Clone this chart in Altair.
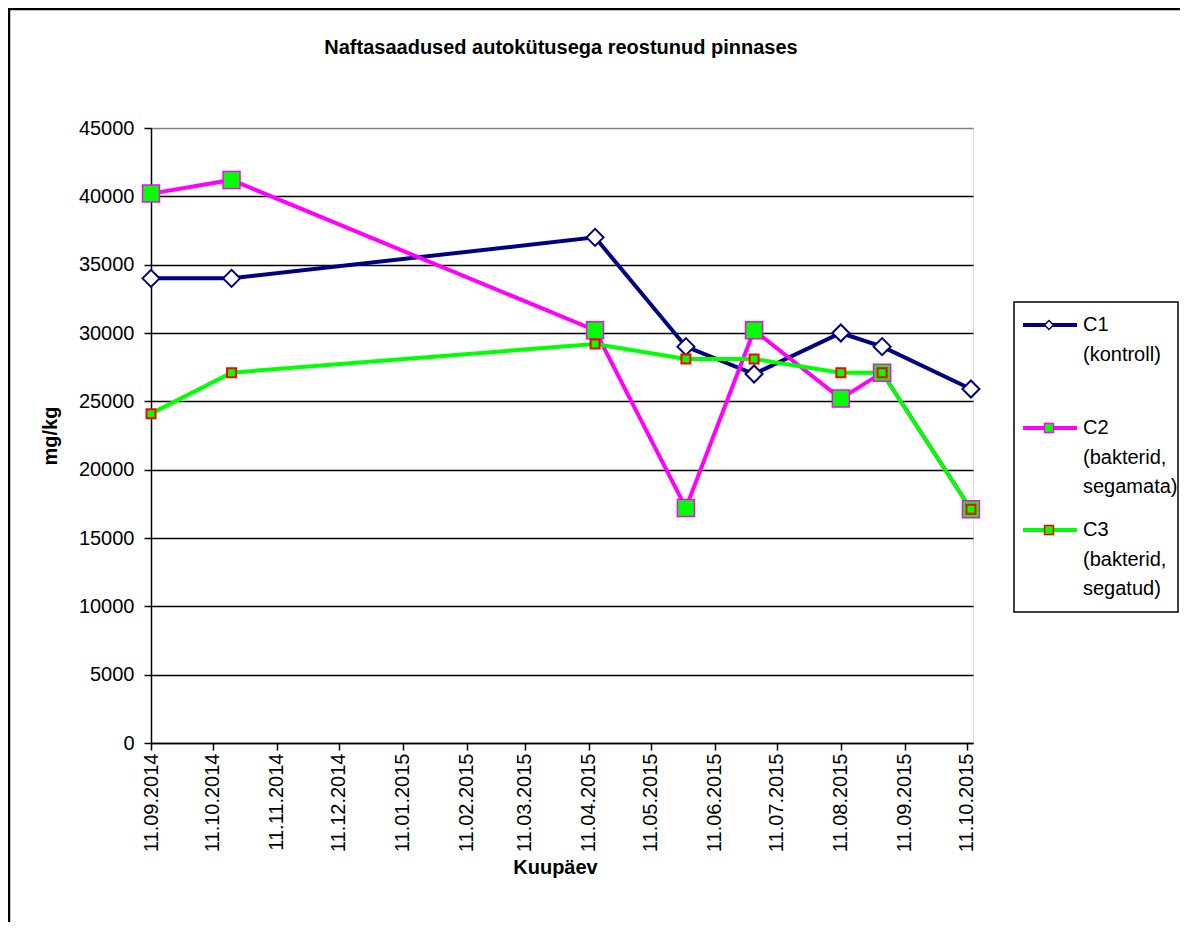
import altair as alt
import pandas as pd

# ---- data ----
dates = ["2014-09-11", "2014-10-20", "2015-04-14", "2015-05-28",
         "2015-06-30", "2015-08-11", "2015-08-31", "2015-10-13"]
c1 = [34000, 34000, 37000, 29000, 27000, 30000, 29000, 25900]
c2 = [40200, 41200, 30200, 17200, 30200, 25200, 27100, 17100]
c3 = [24100, 27100, 29200, 28100, 28100, 27100, 27100, 17100]
series = ["C1 (kontroll)", "C2 (bakterid, segamata)", "C3 (bakterid, segatud)"]
legend_lines = [["C1", "(kontroll)"],
                ["C2", "(bakterid,", "segamata)"],
                ["C3", "(bakterid,", "segatud)"]]
tick_dates = ["2014-09-11", "2014-10-11", "2014-11-11", "2014-12-11",
              "2015-01-11", "2015-02-11", "2015-03-11", "2015-04-11",
              "2015-05-11", "2015-06-11", "2015-07-11", "2015-08-11",
              "2015-09-11", "2015-10-11"]
x_domain = ["2014-09-11", "2015-10-14"]
y_ticks = [0, 5000, 10000, 15000, 20000, 25000, 30000, 35000, 40000, 45000]
title_text = "Naftasaadused autokütusega reostunud pinnases"

rows = []
for name, vals in zip(series, [c1, c2, c3]):
    for d, v in zip(dates, vals):
        rows.append({"date": d, "value": v, "series": name})
df = pd.DataFrame(rows)
one = pd.DataFrame({"k": [0]})


def dt(s):
    y, m, d = map(int, s.split("-"))
    return alt.DateTime(year=y, month=m, date=d, utc=True)


FONT = "Liberation Sans"
W, H = 822, 615
line_colors = ["#000080", "#FF00FF", "#00FF00"]
mk_shape = ["diamond", "square", "square"]
mk_fill = ["#FFFFFF", "#00FF00", "#00FF00"]
mk_stroke = ["#000080", "#FF00FF", "#FF0000"]
mk_size = [289, 289, 81]
mk_sw = [2, 1.5, 2]

x_enc = alt.X(
    "date:T",
    scale=alt.Scale(type="utc", domain=[dt(s) for s in x_domain]),
    axis=alt.Axis(
        values=[dt(s) for s in tick_dates],
        labelExpr="utcFormat(datum.value, '%d.%m.%Y')",
        labelAngle=270, labelFontSize=20, labelFont=FONT, labelColor="black",
        labelPadding=3, tickSize=7, tickColor="black", tickWidth=1.5,
        domainColor="black", domainWidth=1.5, grid=False,
        labelOverlap=False, labelFlush=False,
        title="Kuupäev", titleFont=FONT, titleFontSize=20, titleFontWeight="bold",
        titleColor="black", titleX=404, titleY=124, titleBaseline="middle",
        titleAlign="center",
    ),
)
y_enc = alt.Y(
    "value:Q",
    scale=alt.Scale(domain=[0, 45000], nice=False),
    axis=alt.Axis(
        values=y_ticks, format="d", labelFontSize=20, labelFont=FONT,
        labelColor="black", labelPadding=10, tickSize=7, tickColor="black",
        tickWidth=1.5, domainColor="black", domainWidth=1.5,
        grid=True, gridWidth=1.5,
        gridColor={"condition": {"test": "datum.value === 45000", "value": "#808080"},
                   "value": "#000000"},
        title="mg/kg", titleFont=FONT, titleFontSize=20, titleFontWeight="bold",
        titleColor="black", titleAngle=270, titleX=-101, titleY=H / 2,
        titleAlign="center", titleBaseline="middle",
    ),
)

lines = alt.Chart(df).mark_line(strokeWidth=4).encode(
    x=x_enc, y=y_enc,
    color=alt.Color("series:N", scale=alt.Scale(domain=series, range=line_colors),
                    legend=None),
    order=alt.Order("date:T"),
)

point_layers = []
for i, name in enumerate(series):
    point_layers.append(
        alt.Chart(df).transform_filter(alt.datum.series == name).mark_point(
            shape=mk_shape[i], fill=mk_fill[i], stroke=mk_stroke[i],
            strokeWidth=mk_sw[i], size=mk_size[i], opacity=1, filled=False,
        ).encode(x=x_enc, y=y_enc)
    )

# ---- decorations: title, outer frame and legend ----
deco = []
deco.append(alt.Chart(one).mark_text(
    text=title_text, font=FONT, fontSize=20, fontWeight="bold", color="black",
    align="center", baseline="middle").encode(x=alt.value(W / 2 - 1), y=alt.value(-80)))
deco.append(alt.Chart(one).mark_rule(color="black", strokeWidth=2.5).encode(
    x=alt.value(-143), x2=alt.value(1030), y=alt.value(-119)))
deco.append(alt.Chart(one).mark_rule(color="black", strokeWidth=2.5).encode(
    x=alt.value(-142), y=alt.value(-120), y2=alt.value(800)))
deco.append(alt.Chart(one).mark_rect(fill="white", stroke="black", strokeWidth=1.5).encode(
    x=alt.value(863), x2=alt.value(1027), y=alt.value(174), y2=alt.value(484)))

leg_y = [197, 300, 402]
for i in range(3):
    yy = leg_y[i]
    deco.append(alt.Chart(one).mark_rule(color=line_colors[i], strokeWidth=4).encode(
        x=alt.value(872), x2=alt.value(926), y=alt.value(yy)))
    deco.append(alt.Chart(one).mark_point(
        shape=mk_shape[i], fill=mk_fill[i], stroke=mk_stroke[i],
        strokeWidth=1.5, opacity=1, size=81, filled=False).encode(
        x=alt.value(898), y=alt.value(yy)))
    for j, t in enumerate(legend_lines[i]):
        deco.append(alt.Chart(one).mark_text(
            text=t, align="left", baseline="middle", font=FONT, fontSize=20,
            color="black").encode(x=alt.value(932), y=alt.value(yy + 29.5 * j)))

chart = alt.layer(lines, *point_layers, *deco).properties(
    width=W, height=H,
    autosize=alt.AutoSizeParams(type="none"),
    padding={"left": 143, "top": 120, "right": 207, "bottom": 179},
).configure_view(stroke="#808080", strokeWidth=1.5).configure(background="white")

chart.save("out.html", embed_options={"renderer": "svg", "actions": False})
